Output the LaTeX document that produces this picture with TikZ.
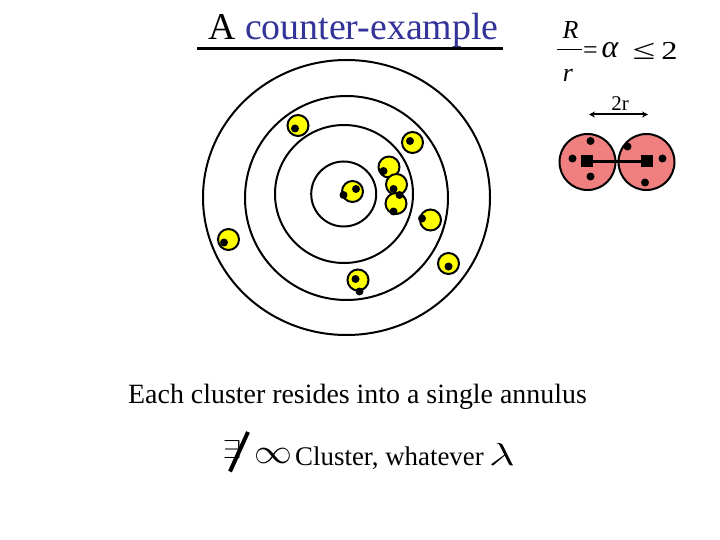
\documentclass[tikz,border=0pt]{standalone}
\usepackage{fontspec}
\setmainfont{Liberation Serif}
\usepackage{graphicx}
\usetikzlibrary{arrows.meta}
\definecolor{titleblue}{RGB}{51,51,153}
\definecolor{clyellow}{RGB}{255,255,0}
\definecolor{clred}{RGB}{240,128,128}
\begin{document}
\begin{tikzpicture}[x=1bp,y=-1bp,
  ring/.style={draw=black,line width=2bp},
  ycl/.style={circle,draw=black,line width=2bp,fill=clyellow,minimum size=21bp,inner sep=0pt},
  dot/.style={circle,fill=black,minimum size=8bp,inner sep=0pt},
  rcl/.style={circle,draw=black,line width=2bp,fill=clred,minimum size=56bp,inner sep=0pt},
  sq/.style={rectangle,fill=black,minimum size=12bp,inner sep=0pt},
  txt/.style={inner sep=0pt,anchor=base west}]
\useasboundingbox (0,0) rectangle (720,540);
\fill[white] (0,0) rectangle (720,540);

% title
\node[txt] (title) at (208,39.5) {\fontsize{38}{40}\selectfont A \textcolor{titleblue}{counter-example}};
\coordinate (ulA) at (197,49);
\coordinate (ulB) at (503,49);
\draw[line width=3bp] (ulA) -- (ulB);

% formula
\node[inner sep=0pt,anchor=base] (fR) at (570.5,38.5) {\fontsize{26}{28}\selectfont\itshape R};
\coordinate (barA) at (556.5,50);
\coordinate (barB) at (582,50);
\draw[line width=1bp] (barA) -- (barB);
\node[inner sep=0pt,anchor=base] (fr) at (568,82) {\fontsize{26}{28}\selectfont\itshape r};
\node[inner sep=0pt,anchor=base] (feq) at (590.5,59) {\fontsize{26}{28}\selectfont =};
\node[inner sep=0pt,anchor=base] (fal) at (610,57.5) {\fontsize{32}{34}\selectfont\itshape α};
\node[inner sep=0pt,anchor=base] (fle) at (644,60) {\fontsize{26}{28}\selectfont\scalebox{1.6}[1.1]{≤}};
\node[inner sep=0pt,anchor=base] (ftwo) at (669.5,60) {\fontsize{26}{28}\selectfont\scalebox{1.25}[1]{2}};

% concentric rings
\coordinate (c0) at (346.5,197.5);
\draw[ring] (c0) ellipse [x radius=143.5, y radius=137.5];
\coordinate (c1) at (346.5,198);
\draw[ring] (c1) ellipse [x radius=101.5, y radius=102];
\coordinate (c2) at (344,194);
\draw[ring] (c2) circle [radius=69];
\coordinate (c3) at (343.7,194);
\draw[ring] (c3) circle [radius=32.5];

% yellow clusters
\foreach \i/\x/\y in {1/298/125.5, 2/412.5/142.5, 3/389/167, 4/352.5/191.5, 5/396.5/184.5,
  6/396/203.5, 7/430.5/220, 8/228.5/239.5, 9/448.5/263.5, 10/358/280}
  \node[ycl] (y\i) at (\x,\y) {};
\foreach \i/\x/\y in {1/295/128.5, 2/410/141, 3/383.5/171, 4/356/189, 5/343.5/195,
  6/393.5/189, 7/399.5/195, 8/393.5/211.5, 9/422/218.5, 10/224/242.5,
  11/448.5/266.5, 12/355.5/279, 13/359.5/291.5}
  \node[dot] (d\i) at (\x,\y) {};

% red clusters
\node[rcl] (r1) at (587.5,162) {};
\node[rcl] (r2) at (646.5,162) {};
\foreach \i/\x/\y in {1/590.5/141, 2/572.5/158.5, 3/590.5/176.5, 4/627.5/146.5, 5/662.5/158.5, 6/645/182.5}
  \node[dot] (rd\i) at (\x,\y) {};
\node[sq] (s1) at (587,161.5) {};
\node[sq] (s2) at (647,161.5) {};
\draw[line width=3bp] (s1) -- (s2);

% 2r arrow
\coordinate (aA) at (589,114.5);
\coordinate (aB) at (648,114.5);
\draw[line width=2bp,{Stealth[length=6bp,width=6bp]}-{Stealth[length=6bp,width=6bp]}] (aA) -- (aB);
\node[inner sep=0pt,anchor=base] (lab2r) at (620,111) {\fontsize{21}{23}\selectfont 2r};

% texts
\node[txt] (each) at (128,403) {\fontsize{28}{30}\selectfont Each cluster resides into a single annulus};
\node[txt] (exists) at (222.5,458) {\scalebox{3.4}[2.6]{$\exists$}};
\coordinate (slA) at (230,471.5);
\coordinate (slB) at (248,432);
\draw[line width=4bp] (slA) -- (slB);
\node[txt] (inf) at (254,463.5) {\scalebox{3.8}[3.5]{$\infty$}};
\node[txt] (clus) at (295,465) {\fontsize{27}{29}\selectfont Cluster, whatever};
\node[txt] (lam) at (489,465) {\scalebox{4.4}[3.2]{$\lambda$}};
\end{tikzpicture}
\end{document}
